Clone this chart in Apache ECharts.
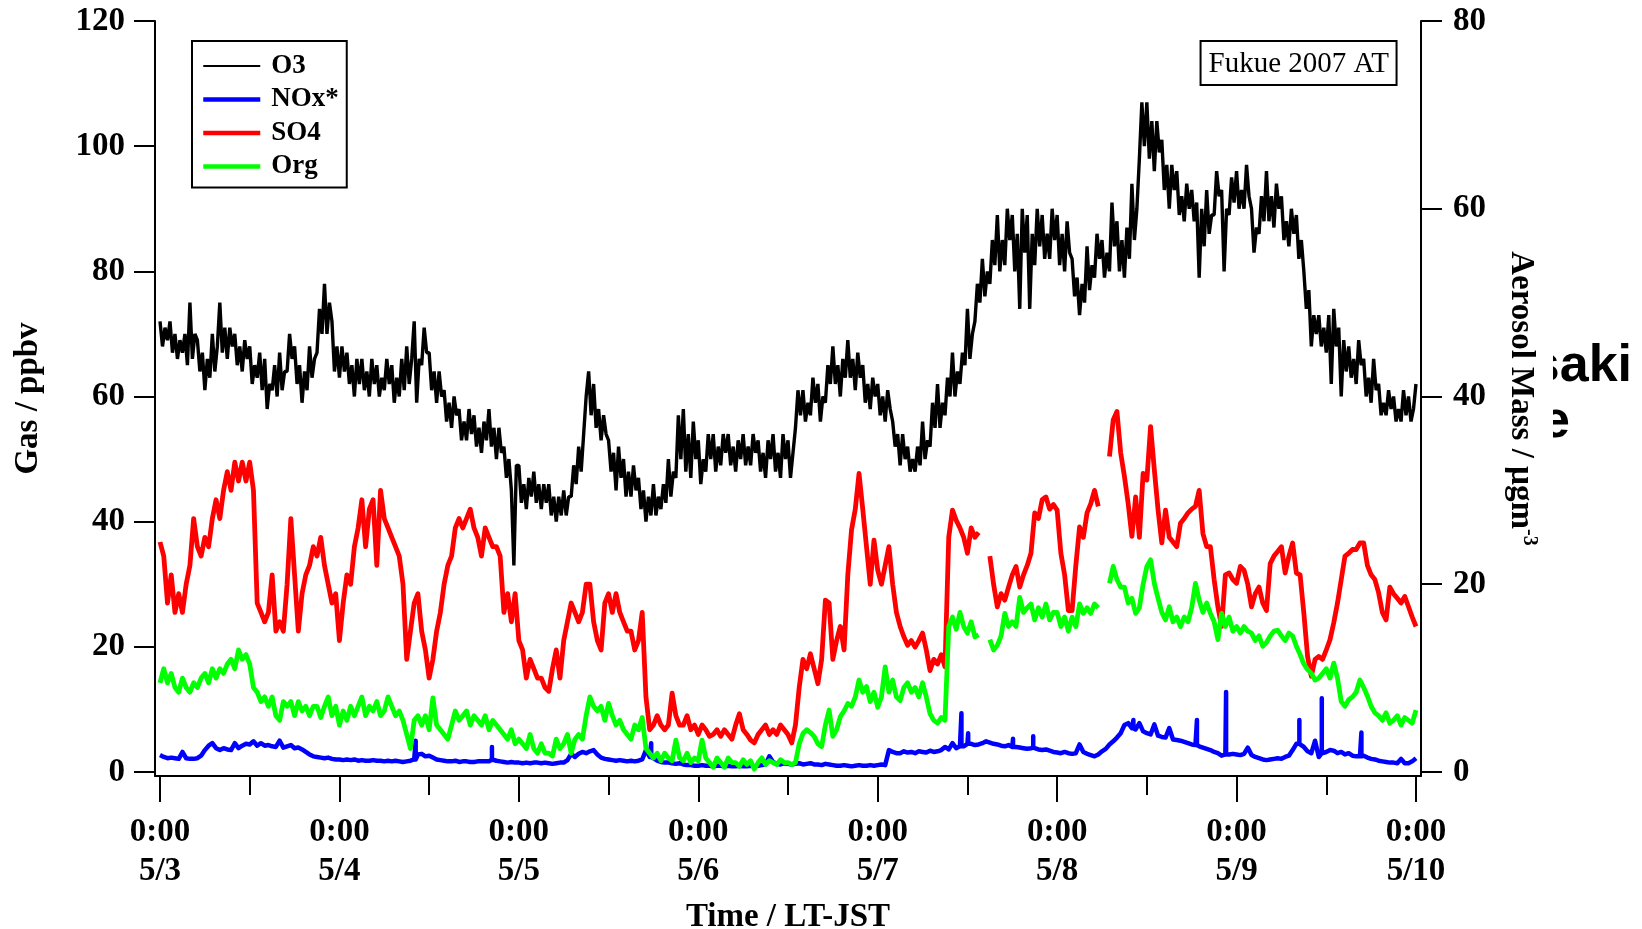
<!DOCTYPE html>
<html>
<head>
<meta charset="utf-8">
<script src="https://cdn.jsdelivr.net/npm/echarts@6/dist/echarts.min.js"></script>
<style>
  html, body { margin: 0; padding: 0; background: #ffffff; }
  #chart { width: 1642px; height: 929px; }
</style>
</head>
<body>
<div id="chart"></div>
<script>
// ---- Axis ticks and labels ----
const dayLabels = ['5/3', '5/4', '5/5', '5/6', '5/7', '5/8', '5/9', '5/10'];
const tickTimeLabel = '0:00';
const dayTickHours = [0, 24, 48, 72, 96, 120, 144, 168];   // hours since 5/3 0:00
const noonTickHours = [12, 36, 60, 84, 108, 132, 156];
const gasTicks = [0, 20, 40, 60, 80, 100, 120];
const aerosolTicks = [0, 20, 40, 60, 80];

// ---- O3 (ppbv), one sample every 20 minutes from 5/3 0:00 ----
const o3StepHours = 1 / 3;
const o3 = [
  72,68,71, 69,72,67, 70,66,69, 67,70,65, 75,66,70, 69,64,67, 61,66,63, 70,64,68,
  75,67,71, 66,71,68, 70,65,68, 64,69,66, 68,62,65, 63,67,61, 66,58,62, 61,65,60,
  67,61,64, 64,70,66, 68,62,65, 59,64,61, 68,63,66, 67,74,70, 78,70,75, 72,64,68,
  63,68,64, 67,62,65, 60,66,62, 66,61,64, 60,66,62, 65,60,63, 61,66,62, 65,59,63,
  60,66,61, 68,62,66, 72,59,66, 65,71,67, 67,61,64, 59,64,60, 61,56,59, 55,60,57,
  58,53,56, 53,58,54, 57,52,55, 51,56,53, 58,52,55, 50,55,51, 52,47,50, 45,33,49,
  49,43,46, 42,47,44, 48,43,46, 42,46,43, 46,41,44, 40,44,41, 45,41,44, 44,49,46,
  52,48,54, 60,64,57, 62,55,58, 53,57,54, 53,48,51, 45,52,47, 50,44,48, 44,49,45,
  47,42,45, 40,44,41, 46,41,44, 42,46,43, 50,44,48, 47,57,50, 58,48,54, 47,56,50,
  53,46,50, 48,54,50, 54,48,52, 49,54,51, 54,49,52, 48,53,50, 54,49,52, 49,54,51,
  53,48,51, 47,53,50, 54,48,51, 47,54,50, 53,47,51, 55,61,57, 61,56,59, 57,63,59,
  62,56,60, 59,65,62, 68,62,65, 60,66,63, 69,63,66, 61,67,63, 65,59,62, 58,63,60,
  62,57,60, 56,61,58, 56,52,54, 49,54,50, 52,48,50, 48,52,49, 56,50,53, 52,59,55,
  62,55,59, 57,63,60, 67,60,64, 62,67,65, 74,66,70, 72,78,75, 82,76,80, 78,85,81,
  89,80,85, 81,90,85, 89,80,86, 74,90,83, 89,74,86, 81,90,84, 89,82,86, 82,90,85,
  89,81,86, 80,88,83, 82,76,79, 73,78,75, 84,77,81, 79,86,82, 85,79,83, 80,91,84,
  88,80,85, 79,87,82, 94,85,90, 98,107,100, 107,98,104, 96,104,99, 101,93,97, 90,97,93,
  96,89,92, 88,94,90, 93,88,91, 79,90,84, 93,86,89, 89,96,92, 93,80,90, 89,95,91,
  96,90,93, 90,97,92, 90,83,87, 86,92,88, 96,88,92, 87,94,90, 92,85,88, 84,90,86,
  89,82,85, 80,74,77, 68,73,70, 73,68,71, 67,73,62, 74,68,71, 60,69,64, 68,63,66,
  62,69,65, 66,60,63, 59,66,61, 62,57,59, 57,61,58, 60,56,58, 56,61,57, 60,56,58,
  62
];

// ---- Aerosol and NOx samples, one every 30 minutes from 5/3 0:00 (null = no data) ----
const halfHourStep = 0.5;

// SO4 (µg m-3)
const so4 = [
  24.5,23, 18,21, 17,19, 17,20, 22,27, 24,23, 25,24, 27,29, 27,30, 32,30,
  33,31, 33,31, 33,30, 18,17, 16,17, 21,15, 16,15, 20,27, 21,15, 19,21,
  22,24, 23,25, 22,20, 18,19, 14,18, 21,20, 24,26, 29,24, 28,29, 22,30,
  27,26, 25,24, 23,20, 12,15, 18,19, 15,13, 10,12, 15,17, 20,22, 23,26,
  27,26, 27,28, 26,25, 23,26, 25,24, 24,23, 17,19, 16,19, 14,13, 10,12,
  11,10, 10,9, 8.6,11, 13,10, 14,16, 18,17, 16,17, 20,20, 16,14, 13,18,
  19,17, 19,17, 16,15, 15,13, 14,17, 8,4.5, 5,6, 5,4.5, 5,8.4, 6,5,
  5,6, 4.5,5, 4,5, 4.5,3.8, 4,4.5, 3.8,4.5, 4,3.5, 5,6.2, 4.5,4, 3.4,3.1,
  4,4.5, 5,4, 4.5,4, 5,4.5, 4,3.1, 5,9, 12,11, 12.6,11, 9.4,12, 18.3,18,
  12,14, 15.5,13, 21,25.8, 28,31.8, 28,24, 20,24.7, 21.5,20, 22,24, 20,17, 15.5,14.4,
  13.5,14, 13.3,14, 14.8,13, 10.8,12, 11.5,12.5, 11.2,25, 27.9,26.8, 26,25, 23.3,26, 25,25.5,
  null,null, 23,20, 17.6,19, 18.3,19.7, 21,21.9, 19.7,21, 22,23.3, 27.6,27, 29,29.3, 28,28.5,
  27.9,23.3, 21,17.2, 17.2,22, 26.1,25, 27.6,28.6, 30,28.3, null,null, 33.6,37.5, 38.4,34, 31.5,28.6,
  25.1,29.3, 25,31.8, 31.1,36.8, 32.2,27.9, 24.4,27.9, 25,24.5, 24,26.5, 27,27.6, 28,28.3, 30,25.4,
  24,24, 20.5,17.6, 15.5,21, 21.2,20.5, 20.1,21.9, 21.5,20, 17.6,19, 19.7,18, 17.2,22.2, 23,23.5,
  24,21.2, 23,24.4, 21.2,21, 16.9,12.3, 10.2,12, 12.3,12, 13,14.1, 15.9,18, 20.5,23, 23.3,23.7,
  23.7,24.4, 24.4,22, 21,20.5, 19.1,17, 16.2,19.7, 19,18.5, 18,18.7, 17.6,16.5,
  15.5
];

// Org (µg m-3)
const org = [
  9.5,11, 9.5,10.5, 9,8.5, 10,9, 8.5,9.5, 9,10, 10.5,9.5, 11,10, 11,10.5, 11.5,12,
  11,13, 12,12.5, 11.5,9, 8.5,7.5, 8,7, 8,6, 5.5,7.5, 7,7.5, 6,7.5, 6.5,7,
  6,7, 7,5.8, 7,8, 6,7, 5,6.5, 5.5,7, 6,7, 8,6, 7,6.5, 7.5,6,
  6.5,8, 7,6, 6.5,5.5, 4,2.5, 5.5,6, 5,6, 4.5,7.9, 5,4.5, 4,3.5, 5,6.5,
  5.5,6, 6.5,5, 6,5.5, 5,6, 4.5,5.5, 5,4.5, 4,3.5, 4.5,3, 3.5,3, 2.5,4,
  2.5,2, 3,2, 2,1.7, 3.5,2.5, 3,4, 2,3.5, 4,3.5, 6,8, 7,6.5, 7,5.5,
  7.3,6, 5,5.5, 4.5,4, 3.5,5, 4.5,5.8, 2.5,2, 1.5,2, 1.2,2, 1.5,1.2, 3.4,1.5,
  1.2,2, 1,1.5, 1.2,3.4, 1.5,1, 0.5,1.5, 1,0.5, 1.5,1, 1,0.6, 1.3,0.8, 1.2,0.3,
  1,1.5, 0.8,1.2, 1,0.8, 1.3,1, 1,0.8, 1,3, 4.1,4.5, 4.2,3.8, 3,2.7, 5,6.6,
  3.8,4.5, 5.9,6.5, 7.3,7, 8,9.8, 8.5,9.1, 7.5,8.5, 6.9,8, 11.2,8.5, 9.8,8, 7.6,9,
  9.5,8.5, 9,8, 9.5,8, 6.2,5.5, 5.2,5.8, 5.5,15.5, 16.5,15.2, 17,15.5, 14.8,16, 14.4,14.6,
  null,null, 14.1,13, 13.5,14.5, 16.9,15.5, 16,15.5, 18.6,17, 17.5,17.9, 16.2,17.5, 16.5,17.9, 16.2,17,
  17,15.5, 16.5,15, 16.5,15.5, 17.9,16.9, 17.5,16.9, 17.9,17.5, null,null, 20.1,21.9, 20.5,19.7, 19.7,18,
  18.5,16.9, 17.5,20, 21.9,22.6, 20.1,18.5, 17,16.2, 17.6,16, 16.5,15.5, 16.5,16, 17.5,20.1, 18.3,17,
  18,16.9, 16,14.1, 16.9,15.5, 16.5,15, 15.5,14.8, 15.5,15, 14.8,14, 14.5,13.4, 13.8,14.5, 15,15.1,
  14.5,14, 14.8,14.5, 13.4,12.5, 11.5,10.9, 10.5,9.8, 10,10.5, 11,10, 11.6,10, 7.5,7, 7.7,8,
  8.5,9.8, 9,8.1, 7,6.3, 6,5.5, 6.3,5.2, 5.5,6, 5,5.8, 5.5,5.2,
  6.6
];

// NOx* (ppbv)
const nox = [
  2.7,2.4, 2.2,2.3, 2.2,2.1, 3.2,2.2, 2.1,2.1, 2.2,2.6, 3.5,4.2, 4.6,3.8, 3.5,3.8, 3.6,3.5,
  4.6,3.8, 4.2,4.5, 4.4,4.9, 4.2,4.6, 4.2,4.3, 4.1,4.0, 5,3.9, 4.1,4.3, 3.8,3.9, 3.6,3.2,
  2.8,2.5, 2.4,2.3, 2.2,2.3, 2.1,2.0, 2.0,1.9, 2.0,1.9, 2.0,1.8, 1.9,1.8, 1.8,1.9, 1.8,1.8,
  1.7,1.8, 1.7,1.8, 1.7,1.6, 1.7,1.8, 2.0,2.8, 2.9,2.5, 2.6,2.3, 2.0,1.9, 1.8,1.7, 1.7,1.8,
  1.6,1.7, 1.7,1.6, 1.6,1.7, 1.7,1.7, 1.7,2.0, 1.8,1.7, 1.6,1.5, 1.6,1.5, 1.5,1.4, 1.5,1.4,
  1.5,1.5, 1.4,1.5, 1.4,1.3, 1.4,1.5, 1.5,1.9, 2.9,2.4, 2.9,3.2, 3.0,3.3, 3.5,2.8, 2.3,2.1,
  2.0,1.9, 1.8,1.9, 1.8,1.7, 1.8,1.7, 1.8,2.0, 3.5,2.4, 2.2,1.8, 1.6,1.5, 1.5,1.4, 1.3,1.4,
  1.2,1.1, 1.1,1.0, 1.0,1.1, 1.0,1.0, 0.9,1.0, 1.0,0.9, 1.0,0.9, 0.9,1.0, 0.9,0.9, 1.0,0.9,
  1.0,1.1, 1.2,2.5, 1.6,1.3, 1.2,1.4, 1.3,1.2, 1.3,1.4, 1.2,1.3, 1.4,1.2, 1.2,1.1, 1.3,1.2,
  1.1,1.0, 1.0,1.1, 1.0,0.9, 1.0,1.1, 1.0,1.0, 1.1,1.0, 1.1,1.2, 1.1,3.5, 3.2,3.0, 3.0,3.3,
  3.1,3.2, 3.0,3.3, 3.2,3.1, 3.4,3.2, 3.3,3.5, 4.0,3.6, 4.6,3.8, 4.1,4.1, 4.5,4.5, 4.3,4.4,
  4.6,4.9, 4.7,4.5, 4.4,4.2, 4.1,4.3, 4.0,4.0, 3.9,3.8, 3.7,3.8, 3.9,3.6, 3.5,3.6, 3.4,3.2,
  3.1,3.0, 3.2,3.0, 2.9,3.0, 4.4,3.2, 2.9,2.7, 2.5,2.8, 3.3,3.7, 4.4,4.9, 5.5,6.2, 7.5,7.8,
  7.0,6.8, 7.8,6.5, 6.2,6.0, 7.6,5.8, 5.6,5.5, 7.0,5.2, 5.1,5.0, 4.8,4.6, 4.4,4.3, 4.1,3.9,
  3.7,3.5, 3.2,3.0, 2.6,2.8, 2.8,2.9, 2.8,2.7, 2.9,3.9, 2.7,2.4, 2.2,2.0, 1.9,2.0, 2.1,2.2,
  2.1,2.4, 2.6,3.5, 4.5,4.5, 4.0,3.3, 3.0,5.0, 2.4,3.0, 3.2,3.5, 3.4,3.0, 3.2,2.8, 3.0,2.6,
  2.5,2.5, 2.6,2.3, 2.1,2.0, 1.8,1.7, 1.6,1.5, 1.5,1.4, 2.1,1.4, 1.4,1.7,
  2.2
];

// Short NOx* spikes: [hour, peak ppbv]
const noxSpikes = [
  [34.2, 5.0], [44.4, 4.0], [65.7, 4.6], [107.2, 9.4], [108.1, 6.2], [114.1, 5.3],
  [116.8, 5.7], [130.2, 8.3], [138.7, 8.3], [142.6, 12.8], [152.4, 8.3], [155.4, 11.8],
  [160.7, 6.3]
];

// ---- Build [hour, value] pairs ----
function toPairs(values, step) {
  return values.map((v, i) => [i * step, v]);
}
function withSpikes(values, step, spikes) {
  const pts = toPairs(values, step);
  spikes.forEach(([t, peak]) => {
    const base = values[Math.round(t / step)];
    pts.push([t, base], [t, peak], [t, base]);
  });
  return pts.sort((a, b) => a[0] - b[0]);
}

const serif = '"Liberation Serif", "Times New Roman", serif';
const axisFont = { fontFamily: serif, fontWeight: 'bold', fontSize: 33, color: '#000' };
const blackLine = { color: '#000', width: 2 };

const chart = echarts.init(document.getElementById('chart'), null, { renderer: 'canvas' });

chart.setOption({
  animation: false,
  backgroundColor: '#ffffff',
  grid: { left: 155, right: 221, top: 21, bottom: 153, containLabel: false, outerBoundsMode: 'none' },
  title: {
    text: 'Fukue 2007 AT',
    right: 245, top: 41,
    padding: [7, 8, 5, 8],
    borderColor: '#000', borderWidth: 2,
    textStyle: { fontFamily: serif, fontWeight: 'normal', fontSize: 29, lineHeight: 32, color: '#000' }
  },
  legend: {
    orient: 'vertical',
    left: 192, top: 41,
    padding: [10, 8, 6, 9],
    itemGap: 3.5,
    itemWidth: 57,
    itemHeight: 14,
    borderColor: '#000', borderWidth: 2, borderRadius: 0,
    selectedMode: false,
    itemStyle: { opacity: 0, borderWidth: 0 },
    textStyle: { fontFamily: serif, fontWeight: 'bold', fontSize: 27, lineHeight: 30, color: '#000', padding: [0, 0, 0, 6] },
    data: [
      { name: 'O3', lineStyle: { width: 2, color: '#000000' } },
      { name: 'NOx*', lineStyle: { width: 4.5, color: '#0000ff' } },
      { name: 'SO4', lineStyle: { width: 4.5, color: '#ff0000' } },
      { name: 'Org', lineStyle: { width: 4.5, color: '#00ff00' } }
    ]
  },
  xAxis: [
    {
      type: 'value', min: -0.67, max: 168.67, position: 'bottom',
      axisLine: { show: true, onZero: false, lineStyle: blackLine },
      axisTick: { show: true, customValues: dayTickHours, length: 26, lineStyle: blackLine },
      axisLabel: {
        customValues: dayTickHours, margin: 37, lineHeight: 39, ...axisFont,
        formatter: (value) => tickTimeLabel + '\n' + dayLabels[dayTickHours.indexOf(value)]
      },
      splitLine: { show: false },
      name: 'Time / LT-JST', nameLocation: 'middle', nameGap: 125, nameMoveOverlap: false,
      nameTextStyle: { ...axisFont }
    },
    {
      type: 'value', min: -0.67, max: 168.67, position: 'bottom',
      axisLine: { show: false, onZero: false },
      axisTick: { show: true, customValues: noonTickHours, length: 19, lineStyle: blackLine },
      axisLabel: { show: false },
      splitLine: { show: false }
    }
  ],
  yAxis: [
    {
      type: 'value', min: -0.64, max: 120, position: 'left',
      axisLine: { show: true, onZero: false, lineStyle: blackLine },
      axisTick: { show: true, customValues: gasTicks, length: 21, lineStyle: blackLine },
      axisLabel: { customValues: gasTicks, margin: 30, ...axisFont },
      splitLine: { show: false },
      name: 'Gas / ppbv', nameLocation: 'middle', nameGap: 110, nameRotate: 90, nameMoveOverlap: false,
      nameTextStyle: { ...axisFont }
    },
    {
      type: 'value', min: -0.4267, max: 80, position: 'right', z: 10,
      axisLine: { show: true, onZero: false, lineStyle: blackLine },
      axisTick: { show: true, customValues: aerosolTicks, length: 21, lineStyle: blackLine },
      axisLabel: { customValues: aerosolTicks, margin: 32, ...axisFont },
      splitLine: { show: false },
      name: 'Aerosol Mass / µgm{sup|-3}', nameLocation: 'middle', nameGap: 82, nameRotate: -90, nameMoveOverlap: false,
      nameTextStyle: {
        ...axisFont, lineHeight: 36,
        rich: { sup: { fontFamily: serif, fontWeight: 'bold', fontSize: 20, color: '#000', verticalAlign: 'top', lineHeight: 36 } }
      }
    }
  ],
  graphic: [
    { type: 'text', x: 1632, y: 367, z: 1, silent: true,
      style: { text: 'saki', font: 'bold 52px "Liberation Sans", Arial, sans-serif', fill: '#000', align: 'right', verticalAlign: 'middle' } },
    { type: 'text', x: 1570, y: 423, z: 1, silent: true,
      style: { text: 'e', font: 'bold 52px "Liberation Sans", Arial, sans-serif', fill: '#000', align: 'right', verticalAlign: 'middle' } },
    { type: 'rect', z: 2, silent: true,
      shape: { x: 1480, y: 325, width: 73, height: 130 }, style: { fill: '#ffffff' } }
  ],
  series: [
    {
      name: 'O3', type: 'line', xAxisIndex: 0, yAxisIndex: 0, symbol: 'none', silent: true,
      data: toPairs(o3, o3StepHours),
      lineStyle: { color: '#000000', width: 3.4, join: 'bevel' }, itemStyle: { color: '#000000' }
    },
    {
      name: 'NOx*', type: 'line', xAxisIndex: 0, yAxisIndex: 0, symbol: 'none', silent: true,
      data: withSpikes(nox, halfHourStep, noxSpikes),
      lineStyle: { color: '#0000ff', width: 4.5, join: 'round' }, itemStyle: { color: '#0000ff' }
    },
    {
      name: 'SO4', type: 'line', xAxisIndex: 0, yAxisIndex: 1, symbol: 'none', silent: true,
      data: toPairs(so4, halfHourStep),
      lineStyle: { color: '#ff0000', width: 4.8, join: 'round' }, itemStyle: { color: '#ff0000' }
    },
    {
      name: 'Org', type: 'line', xAxisIndex: 0, yAxisIndex: 1, symbol: 'none', silent: true,
      data: toPairs(org, halfHourStep),
      lineStyle: { color: '#00ff00', width: 4.8, join: 'round' }, itemStyle: { color: '#00ff00' }
    }
  ]
});
</script>
</body>
</html>
